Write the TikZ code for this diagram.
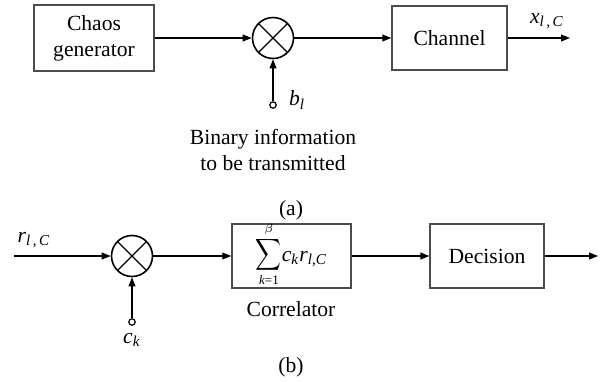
\documentclass[tikz,border=0pt]{standalone}
\usepackage{fontspec}
\setmainfont{Liberation Serif}
\usetikzlibrary{arrows.meta, positioning}
\newcommand{\vr}[1]{\textit{#1}}
\newcommand{\bigsum}{\mathop{\mbox{\scalebox{0.9}[1.1]{$\displaystyle\sum$}}}\limits}

\begin{document}
\begin{tikzpicture}[x=0.5pt, y=-0.5pt, font=\fontsize{10.8}{13}\selectfont,
    block/.style={draw=black!70, line width=0.7pt, inner sep=2pt, align=center},
    mixer/.style={draw, circle, line width=0.8pt, minimum size=20.5pt, inner sep=0pt,
      path picture={\draw[line width=0.6pt] (path picture bounding box.north west) -- (path picture bounding box.south east)
        (path picture bounding box.north east) -- (path picture bounding box.south west);}},
    port/.style={draw, circle, inner sep=0pt, minimum size=3.2pt, fill=white, line width=0.6pt},
    flow/.style={-{Triangle[length=4.5pt,width=3.4pt]}, line width=0.7pt}]
  \useasboundingbox (0,0) rectangle (613,381);

  % (a) transmitter
  \node[block, minimum width=60pt, minimum height=33pt] (gen) at (94,38) {Chaos\\generator};
  \node[mixer] (mixa) at (273,38) {};
  \node[block, minimum width=57.5pt, minimum height=32pt] (chan) at (449.5,38) {Channel};
  \coordinate (xout) at (570,38);
  \node[port] (bl) at (273,105) {};
  \node[anchor=west] (bllab) at (282,100) {\vr{b}\textsubscript{\vr{l}}};
  \node[align=center] (info) at (273,150) {Binary information\\to be transmitted};
  \node[inner sep=1pt] (capa) at (291,210) {(a)};
  \node (xlab) at (547,21) {\vr{x}\textsubscript{\vr{l}\,,\,\vr{C}}};

  \draw[flow] (gen) -- (mixa);
  \draw[flow] (mixa) -- (chan);
  \draw[flow] (chan) -- (xout);
  \draw[flow] (bl) -- (mixa);

  % (b) receiver
  \coordinate (rin) at (14,256);
  \node (rlab) at (34,240) {\vr{r}\textsubscript{\vr{l}\,,\,\vr{C}}};
  \node[mixer] (mixb) at (132,256) {};
  \node[port] (ck) at (132,322) {};
  \node (cklab) at (132,340) {\vr{c}\textsubscript{\vr{k}}};
  \node[block, minimum width=59.5pt, inner ysep=1pt, text height=17.5pt, text depth=12.5pt] (corr) at (291.5,256)
    {$\bigsum_{\mbox{\fontsize{6.5}{7}\selectfont\vr{k}=1}}^{\mbox{\fontsize{6.5}{7}\selectfont$\beta$}}$\vr{c}\textsubscript{\vr{k}}\vr{r}\textsubscript{\vr{l},\vr{C}}};
  \node (corrlab) at (291,309) {Correlator};
  \node[block, minimum width=57pt, minimum height=32pt] (dec) at (487,256) {Decision};
  \coordinate (dout) at (598,256);
  \node[inner sep=1pt] (capb) at (291,367) {(b)};

  \draw[flow] (rin) -- (mixb);
  \draw[flow] (mixb) -- (corr);
  \draw[flow] (corr) -- (dec);
  \draw[flow] (dec) -- (dout);
  \draw[flow] (ck) -- (mixb);
\end{tikzpicture}
\end{document}
